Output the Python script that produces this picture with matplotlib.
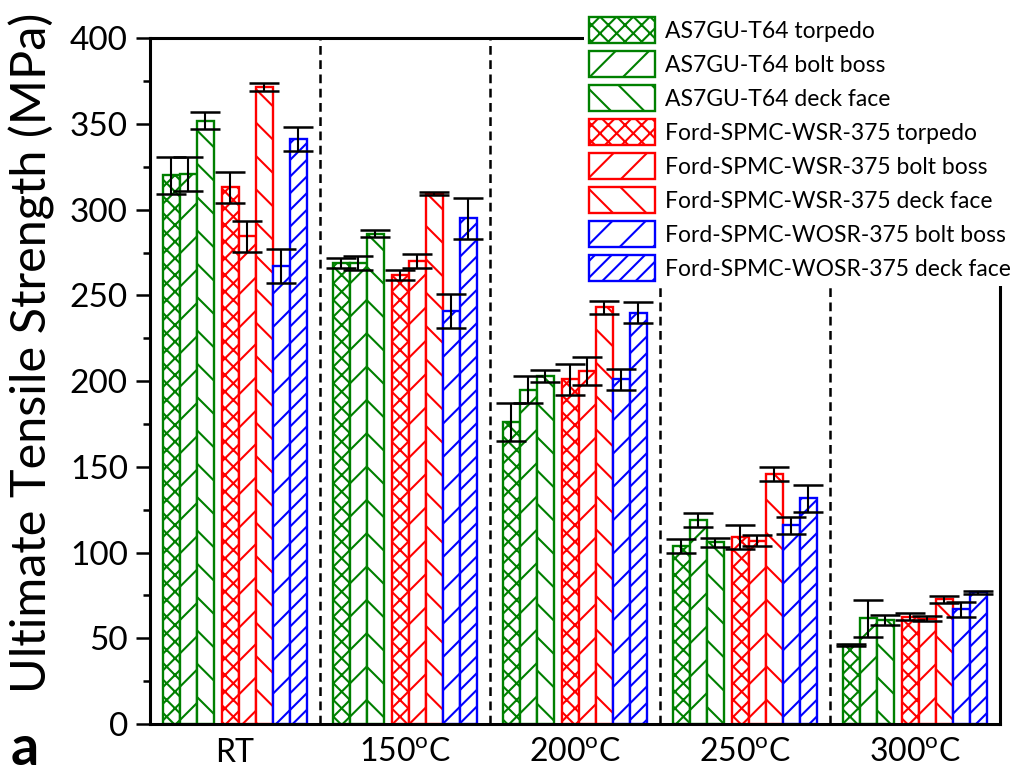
import matplotlib
matplotlib.use('Agg')
import matplotlib.pyplot as plt
import numpy as np
from matplotlib.ticker import MultipleLocator

plt.rcParams['font.family'] = ['Lato', 'DejaVu Sans']
plt.rcParams['mathtext.fontset'] = 'custom'
plt.rcParams['mathtext.rm'] = 'Lato'
plt.rcParams['hatch.linewidth'] = 1.5

# --- data ---
temps = ['RT', '150$^{\\mathrm{o}}$C', '200$^{\\mathrm{o}}$C',
         '250$^{\\mathrm{o}}$C', '300$^{\\mathrm{o}}$C']

ag_torpedo = [320, 269, 176, 104, 46]
ag_torpedo_err = [11, 3, 11, 4, 0.5]
ag_bolt = [321, 269, 195, 119, 61.6]
ag_bolt_err = [10, 4, 8, 4, 11]
ag_deck = [352, 286, 203, 106, 60.6]
ag_deck_err = [5, 2, 3.5, 2.5, 3]
wsr_torpedo = [313, 262, 201, 109, 62.6]
wsr_torpedo_err = [9, 3, 9, 7, 2]
wsr_bolt = [284.5, 270, 206, 107, 61.4]
wsr_bolt_err = [9, 4, 8, 3, 1.5]
wsr_deck = [371.6, 309.4, 243, 146, 72.7]
wsr_deck_err = [2.5, 1, 4, 4, 2]
wosr_bolt = [267, 241, 201, 116, 66.9]
wosr_bolt_err = [10, 10, 6, 5, 4.5]
wosr_deck = [341, 295, 240, 131.6, 76.8]
wosr_deck_err = [7, 12, 6, 8, 1]

series = [
    ('AS7GU-T64 torpedo', ag_torpedo, ag_torpedo_err, 'green', 'xx'),
    ('AS7GU-T64 bolt boss', ag_bolt, ag_bolt_err, 'green', '/'),
    ('AS7GU-T64 deck face', ag_deck, ag_deck_err, 'green', '\\'),
    ('Ford-SPMC-WSR-375 torpedo', wsr_torpedo, wsr_torpedo_err, 'red', 'xx'),
    ('Ford-SPMC-WSR-375 bolt boss', wsr_bolt, wsr_bolt_err, 'red', '/'),
    ('Ford-SPMC-WSR-375 deck face', wsr_deck, wsr_deck_err, 'red', '\\'),
    ('Ford-SPMC-WOSR-375 bolt boss', wosr_bolt, wosr_bolt_err, 'blue', '/'),
    ('Ford-SPMC-WOSR-375 deck face', wosr_deck, wosr_deck_err, 'blue', '//'),
]
# bar offsets inside each temperature group
offsets = [-0.375, -0.275, -0.175, -0.03, 0.07, 0.17, 0.27, 0.37]
bar_w = 0.1

fig = plt.figure(figsize=(10.28, 7.74), dpi=100)
ax = fig.add_axes([0.146, 0.0646, 0.827, 0.886])

x = np.arange(len(temps))
handles = []
for (label, vals, errs, col, hatch), off in zip(series, offsets):
    b = ax.bar(x + off, vals, bar_w, facecolor='white', edgecolor=col,
               hatch=hatch, linewidth=1.7, label=label, zorder=2)
    ax.errorbar(x + off, vals, yerr=errs, fmt='none', ecolor='black',
                elinewidth=1.5, capsize=11, capthick=1.8, zorder=3)
    handles.append(b)

for sep in x[:-1] + 0.5:
    ax.axvline(sep, color='black', linewidth=1.8, dashes=(3.5, 2.2), zorder=1)

ax.set_xlim(-0.5, len(temps) - 0.5)
ax.set_ylim(0, 400)
ax.set_xticks(x)
ax.set_xticklabels(temps, fontsize=23)
ax.tick_params(axis='x', length=0, pad=10)
ax.yaxis.set_major_locator(MultipleLocator(50))
ax.yaxis.set_minor_locator(MultipleLocator(25))
ax.tick_params(axis='y', which='major', direction='out', length=10,
               width=1.8, labelsize=24, pad=6)
ax.tick_params(axis='y', which='minor', direction='out', length=5, width=1.8)
for sp in ax.spines.values():
    sp.set_linewidth(2.2)
ax.set_ylabel('Ultimate Tensile Strength (MPa)', fontsize=35)
ax.yaxis.set_label_coords(-0.112, 0.542)

fig.legend(handles=handles, loc='upper right', bbox_to_anchor=(1.0, 1.0),
           fontsize=16.5, frameon=True, facecolor='white', edgecolor='none',
           framealpha=1, fancybox=False, handlelength=2.85, handleheight=1.35,
           labelspacing=0.36, handletextpad=0.45, borderpad=0.25)

fig.text(0.01, 0.012, 'a', fontsize=40, fontweight='bold', va='baseline')

fig.savefig('out.png', dpi=100)
